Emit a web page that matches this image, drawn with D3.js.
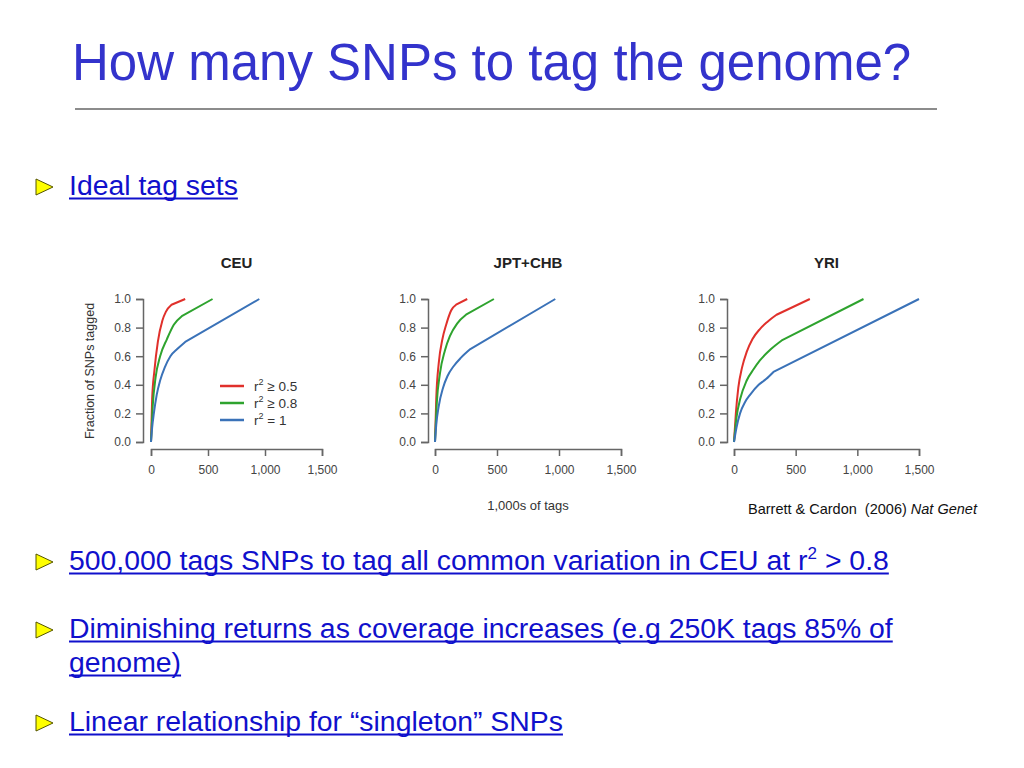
<!DOCTYPE html>
<html>
<head>
<meta charset="utf-8">
<script src="https://cdn.jsdelivr.net/npm/d3@7"></script>
<style>
  body { margin: 0; background: #fff; }
  svg { font-family: "Liberation Sans", Arial, sans-serif; }
</style>
</head>
<body>
<svg id="slide" width="1024" height="768"></svg>
<script>
// ---- data (x = 1,000s of tags, y = fraction tagged) ----
const panelNames = ["CEU", "JPT+CHB", "YRI"];
const seriesLabels = ["0.5", "0.8", "1"];
const seriesColors = ["#e0302b", "#2ea32e", "#3a72b8"];
const xTicks = [0, 500, 1000, 1500];
const yTicks = [0, 0.2, 0.4, 0.6, 0.8, 1.0];

// last segment of every series is the straight tail after the knee
const ceuR05 = [[0,0],[10,0.3],[30,0.5],[60,0.7],[100,0.85],[130,0.91],[180,0.96],[300,1.0]];
const ceuR08 = [[0,0],[15,0.25],[40,0.45],[80,0.6],[140,0.72],[200,0.82],[270,0.88],[540,1.0]];
const ceuR1  = [[0,0],[10,0.1],[25,0.2],[50,0.33],[80,0.43],[120,0.52],[170,0.6],[230,0.65],[300,0.7],[950,1.0]];

const jptR05 = [[0,0],[10,0.3],[30,0.55],[60,0.72],[90,0.82],[130,0.92],[170,0.96],[260,1.0]];
const jptR08 = [[0,0],[15,0.28],[40,0.48],[80,0.64],[120,0.74],[180,0.83],[250,0.89],[475,1.0]];
const jptR1  = [[0,0],[10,0.12],[30,0.25],[65,0.38],[100,0.46],[150,0.53],[210,0.59],[285,0.65],[970,1.0]];

const yriR05 = [[0,0],[15,0.2],[35,0.38],[65,0.52],[103,0.63],[150,0.72],[210,0.79],[270,0.84],[345,0.89],[615,1.0]];
const yriR08 = [[0,0],[20,0.17],[50,0.3],[103,0.43],[160,0.51],[210,0.57],[300,0.65],[387,0.71],[1050,1.0]];
const yriR1  = [[0,0],[20,0.1],[49,0.2],[90,0.28],[130,0.33],[200,0.4],[260,0.44],[320,0.49],[1500,1.0]];

const panelSeries = [[ceuR05, ceuR08, ceuR1], [jptR05, jptR08, jptR1], [yriR05, yriR08, yriR1]];

const bullets = [
  {y: 195, lines: [["Ideal tag sets"]]},
  {y: 570, lines: [["500,000 tags SNPs to tag all common variation in CEU at r", "2", " > 0.8"]]},
  {y: 638, lines: [["Diminishing returns as coverage increases (e.g 250K tags 85% of"], ["genome)"]]},
  {y: 731, lines: [["Linear relationship for \u201csingleton\u201d SNPs"]]}
];

const svg = d3.select("#slide");

// title + rule
svg.append("text")
  .attr("x", 72).attr("y", 80)
  .attr("font-size", 51)
  .attr("fill", "#3333cc")
  .text("How many SNPs to tag the genome?");
svg.append("line")
  .attr("x1", 75).attr("x2", 937).attr("y1", 109).attr("y2", 109)
  .attr("stroke", "#666").attr("stroke-width", 1.5);

// bullets (underline drawn by hand so it runs under the superscript too)
const linkColor = "#1010cc";
for (let b of bullets) {
  svg.append("path")
    .attr("d", `M36,${b.y - 16} L53,${b.y - 8} L36,${b.y} Z`)
    .attr("fill", "#ffff00").attr("stroke", "#555500").attr("stroke-width", 1);
  b.lines.forEach((parts, i) => {
    const by = b.y + i * 34;
    const t = svg.append("text")
      .attr("x", 69).attr("y", by)
      .attr("font-size", 28.4)
      .attr("fill", linkColor);
    parts.forEach((p, j) => {
      const ts = t.append("tspan").text(p);
      if (parts.length > 1 && j === 1) ts.attr("font-size", 17).attr("dy", -11);
      if (parts.length > 1 && j === 2) ts.attr("dy", 11);
    });
    const w = t.node().getComputedTextLength();
    svg.append("line")
      .attr("x1", 69).attr("x2", 69 + w)
      .attr("y1", by + 3.5).attr("y2", by + 3.5)
      .attr("stroke", linkColor).attr("stroke-width", 2);
  });
}

// panels
const panelLayout = [
  {x0: 151, x1: 322, yAxisX: 143},
  {x0: 435, x1: 621, yAxisX: 428},
  {x0: 734, x1: 919, yAxisX: 727}
];
const yBottom = 442, yTop = 299, xAxisY = 449;

panelNames.forEach((name, p) => {
  const L = panelLayout[p];
  const x = d3.scaleLinear().domain([0, 1500]).range([L.x0, L.x1]);
  const y = d3.scaleLinear().domain([0, 1]).range([yBottom, yTop]);
  const g = svg.append("g");

  g.append("text")
    .attr("x", (L.x0 + L.x1) / 2).attr("y", 268)
    .attr("text-anchor", "middle")
    .attr("font-size", 15).attr("font-weight", "bold").attr("fill", "#222")
    .text(name);

  const yAxis = g.append("g")
    .attr("transform", `translate(${L.yAxisX},0)`)
    .call(d3.axisLeft(y).tickValues(yTicks).tickFormat(d3.format(".1f"))
      .tickSizeOuter(0).tickSize(7).tickPadding(5));
  const xAxis = g.append("g")
    .attr("transform", `translate(0,${xAxisY})`)
    .call(d3.axisBottom(x).tickValues(xTicks).tickFormat(d3.format(","))
      .tickSizeOuter(0).tickSize(7).tickPadding(9));
  for (let ax of [xAxis, yAxis]) {
    ax.selectAll("path, line").attr("stroke", "#666").attr("stroke-width", 1.5);
    ax.selectAll("text").attr("font-size", 12).attr("fill", "#444")
      .attr("font-family", "Liberation Sans, Arial, sans-serif");
  }

  const curved = d3.line().x(d => x(d[0])).y(d => y(d[1])).curve(d3.curveMonotoneX);
  const straight = d3.line().x(d => x(d[0])).y(d => y(d[1]));
  panelSeries[p].forEach((s, i) => {
    g.append("path")
      .attr("d", curved(s.slice(0, -1)) + straight(s.slice(-2)).replace(/^M/, "L"))
      .attr("fill", "none")
      .attr("stroke", seriesColors[i])
      .attr("stroke-width", 2)
      .attr("stroke-linejoin", "round");
  });
});

// axis titles (shared)
svg.append("text")
  .attr("transform", "translate(94,371) rotate(-90)")
  .attr("text-anchor", "middle")
  .attr("font-size", 12.5).attr("fill", "#333")
  .text("Fraction of SNPs tagged");
svg.append("text")
  .attr("x", 528).attr("y", 510)
  .attr("text-anchor", "middle")
  .attr("font-size", 13).attr("fill", "#333")
  .text("1,000s of tags");

// legend (CEU panel)
const legend = svg.append("g");
seriesLabels.forEach((lab, i) => {
  const ly = 386 + i * 17;
  legend.append("line")
    .attr("x1", 220).attr("x2", 244).attr("y1", ly).attr("y2", ly)
    .attr("stroke", seriesColors[i]).attr("stroke-width", 2.5);
  const t = legend.append("text")
    .attr("x", 254).attr("y", ly + 5)
    .attr("font-size", 13.5).attr("fill", "#333");
  t.append("tspan").text("r");
  t.append("tspan").attr("font-size", 9).attr("dy", -6).text("2");
  t.append("tspan").attr("dy", 6).text(i < 2 ? " \u2265 " + lab : " = " + lab);
});

// citation
const cite = svg.append("text")
  .attr("x", 748).attr("y", 514)
  .attr("font-size", 14.5).attr("fill", "#111")
  .attr("xml:space", "preserve");
cite.append("tspan").text("Barrett & Cardon\u00a0 (2006) ");
cite.append("tspan").attr("font-style", "italic").text("Nat Genet");
</script>
</body>
</html>
